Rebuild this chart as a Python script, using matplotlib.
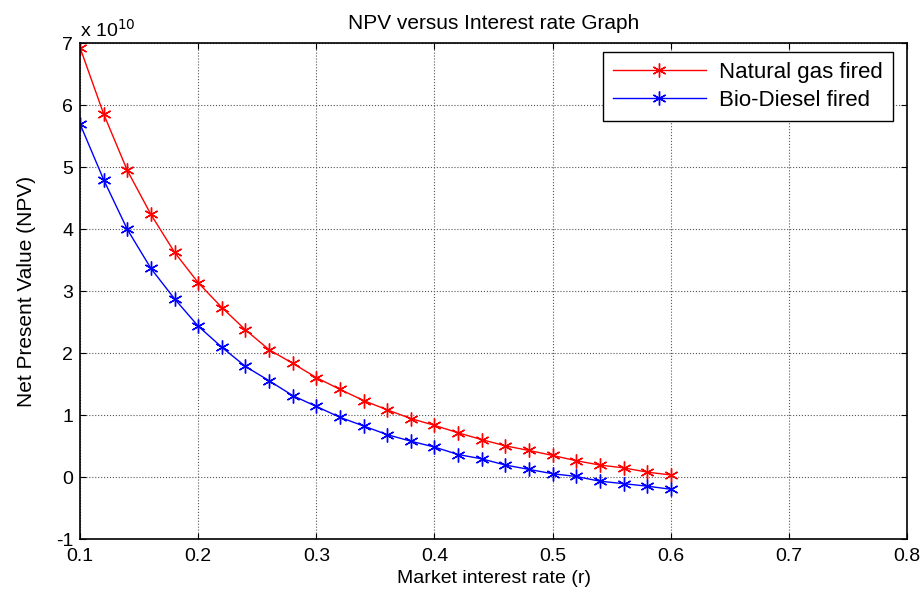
import numpy as np
import matplotlib
matplotlib.use("Agg")
import matplotlib.pyplot as plt
from matplotlib.ticker import FuncFormatter

# interest rates and NPV values (in units of 1e10)
rate = [0.10, 0.12, 0.14, 0.16, 0.18, 0.20, 0.22, 0.24, 0.26, 0.28,
        0.30, 0.32, 0.34, 0.36, 0.38, 0.40, 0.42, 0.44, 0.46, 0.48,
        0.50, 0.52, 0.54, 0.56, 0.58, 0.60]
npv_gas = [6.93, 5.86, 4.95, 4.24, 3.63, 3.14, 2.74, 2.38, 2.06, 1.84,
           1.61, 1.42, 1.24, 1.09, 0.95, 0.84, 0.72, 0.61, 0.51, 0.435,
           0.355, 0.27, 0.20, 0.155, 0.086, 0.04]
npv_diesel = [5.70, 4.80, 4.00, 3.37, 2.88, 2.44, 2.10, 1.79, 1.56, 1.32,
              1.145, 0.97, 0.83, 0.69, 0.585, 0.49, 0.37, 0.30, 0.20, 0.13,
              0.06, 0.016, -0.06, -0.10, -0.14, -0.19]
scale = 1e10

plt.rcParams["font.family"] = ["Liberation Sans", "DejaVu Sans"]

fig = plt.figure(figsize=(9.21, 5.92), dpi=100)
ax = fig.add_axes([0.0869, 0.0887, 0.898, 0.8382])

star = (6, 2, 0)
ax.plot(rate, np.array(npv_gas) * scale, color="red", lw=1, marker=star,
        ms=10, mew=1, label="Natural gas fired")
ax.plot(rate, np.array(npv_diesel) * scale, color="blue", lw=1, marker=star,
        ms=10, mew=1, label="Bio-Diesel fired")

ax.set_xlim(0.1, 0.8)
ax.set_ylim(-1 * scale, 7 * scale)
ax.set_xticks(np.arange(0.1, 0.81, 0.1))
ax.set_yticks(np.arange(-1, 8) * scale)
ax.xaxis.set_major_formatter(FuncFormatter(lambda v, p: "%g" % round(v, 2)))
ax.yaxis.set_major_formatter(FuncFormatter(lambda v, p: "%d" % round(v / scale)))
ax.tick_params(direction="in", top=True, right=True, labelsize=14, length=4)
ax.tick_params(axis="y", pad=5)
ax.tick_params(axis="x", pad=6)
for s in ax.spines.values():
    s.set_linewidth(1.2)
ax.grid(True, ls=":", color="#555555", lw=0.8)

ax.text(0.0, 1.005, r"x 10$^{10}$", transform=ax.transAxes, fontsize=14,
        ha="left", va="bottom")

ax.set_title("NPV versus Interest rate Graph", fontsize=15, pad=10)
ax.set_xlabel("Market interest rate (r)", fontsize=14, labelpad=4)
ax.set_ylabel("Net Present Value (NPV)", fontsize=15, labelpad=14)

leg = ax.legend(loc="upper right", bbox_to_anchor=(0.983, 0.9825), fontsize=16,
                fancybox=False, framealpha=1, edgecolor="black",
                handlelength=4.2, handletextpad=0.6, borderpad=0.45,
                labelspacing=0.3, borderaxespad=0)
leg.get_frame().set_linewidth(1)

plt.savefig("out.png", dpi=100)
plt.close()
